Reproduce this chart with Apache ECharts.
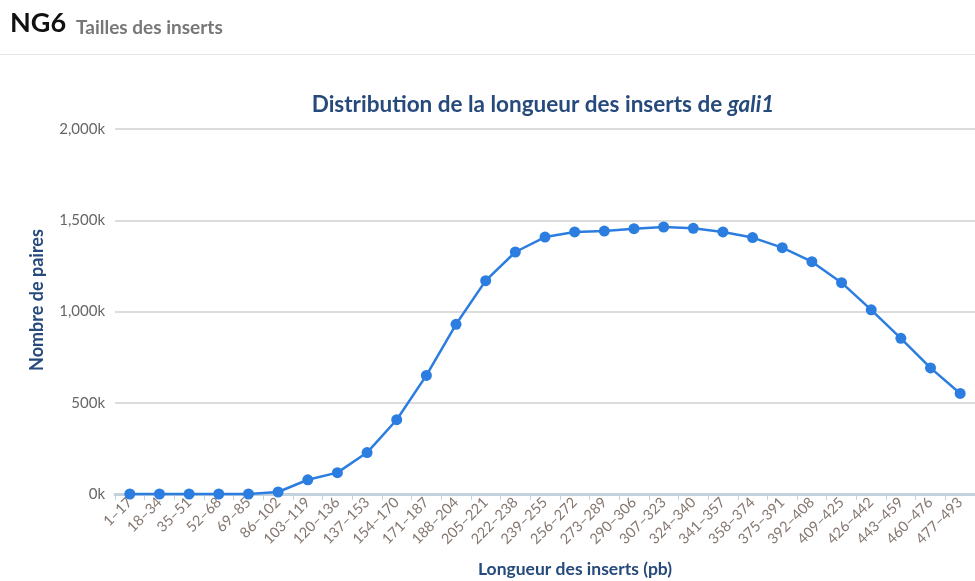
<!DOCTYPE html>
<html>
<head>
<meta charset="utf-8">
<script src="https://cdn.jsdelivr.net/npm/echarts@6/dist/echarts.min.js"></script>
<style>
  html, body { margin: 0; padding: 0; background: #fff; }
  #chart { width: 975px; height: 581px; }
</style>
</head>
<body>
<div id="chart"></div>
<script>
// Insert-size classes (pb)
const categories = [
  '1–17', '18–34', '35–51', '52–68', '69–85', '86–102', '103–119', '120–136',
  '137–153', '154–170', '171–187', '188–204', '205–221', '222–238', '239–255',
  '256–272', '273–289', '290–306', '307–323', '324–340', '341–357', '358–374',
  '375–391', '392–408', '409–425', '426–442', '443–459', '460–476', '477–493'
];

// Number of read pairs in each class
const pairCounts = [
  0, 0, 0, 0, 0, 11000, 78000, 117000,
  227000, 407000, 650000, 930000, 1169000, 1326000, 1408000,
  1436000, 1441000, 1454000, 1463000, 1456000, 1436000, 1405000,
  1350000, 1273000, 1158000, 1009000, 853000, 691000, 551000
];

// Value-axis ticks
const yTicks = [0, 500000, 1000000, 1500000, 2000000];

const FONT = 'Lato, "Open Sans", sans-serif';
const NAVY = '#264a7c';

const chart = echarts.init(document.getElementById('chart'), null, { renderer: 'canvas' });

function formatK(v) {
  return (v / 1000).toLocaleString('en-US') + 'k';
}

chart.setOption({
  animation: false,
  backgroundColor: '#fff',
  textStyle: { fontFamily: FONT },
  graphic: [
    {
      type: 'text', left: 10, top: 10,
      style: { text: 'NG6', font: 'bold 27px ' + FONT, fill: '#111' }
    },
    {
      type: 'text', left: 76, top: 18,
      style: { text: 'Tailles des inserts', font: 'bold 19px ' + FONT, fill: '#777' }
    },
    {
      type: 'rect', left: 0, top: 54,
      shape: { width: 975, height: 1 },
      style: { fill: '#e6e6e6' }
    },
    {
      // value-axis title
      type: 'text', x: 37, y: 300, rotation: Math.PI / 2,
      style: {
        text: 'Nombre de paires', font: 'bold 18px ' + FONT, fill: NAVY,
        align: 'center', verticalAlign: 'middle'
      }
    },
    {
      // category-axis title
      type: 'text', x: 575, y: 569,
      style: {
        text: 'Longueur des inserts (pb)', font: 'bold 17.5px ' + FONT, fill: NAVY,
        align: 'center', verticalAlign: 'middle'
      }
    }
  ],
  title: {
    left: 538, top: 88, textAlign: 'center',
    text: '{n|Distribution de la longueur des inserts de }{i|gali1}',
    textStyle: {
      rich: {
        n: { fontFamily: FONT, fontWeight: 'bold', fontSize: 22.5, color: NAVY },
        i: { fontFamily: FONT, fontWeight: 'bold', fontStyle: 'italic', fontSize: 22.5, color: NAVY }
      }
    }
  },
  grid: { left: 115, right: -5, top: 129, bottom: 87, containLabel: false },
  xAxis: {
    type: 'category',
    data: categories,
    boundaryGap: true,
    axisLine: { lineStyle: { color: '#c3d0dd', width: 3 } },
    axisTick: { show: true, alignWithLabel: false, length: 6, lineStyle: { color: '#c3d0dd', width: 1 } },
    axisLabel: { rotate: 45, interval: 0, margin: 6, fontSize: 14.5, color: '#857770', fontFamily: FONT },
    splitLine: { show: false }
  },
  yAxis: {
    type: 'value',
    min: 0, max: 2000000, interval: 500000,
    axisLine: { show: false },
    axisTick: { show: false },
    axisLabel: {
      margin: 10, fontSize: 15, color: '#666', fontFamily: FONT,
      formatter: function (v) { return yTicks.indexOf(v) >= 0 ? formatK(v) : ''; }
    },
    splitLine: { lineStyle: { color: '#dcdcdc', width: 2 } }
  },
  series: [{
    type: 'line',
    data: pairCounts,
    symbol: 'circle',
    symbolSize: 11,
    lineStyle: { color: '#2c7de0', width: 2.5 },
    itemStyle: { color: '#2c7de0' },
    clip: false
  }]
});
</script>
</body>
</html>
